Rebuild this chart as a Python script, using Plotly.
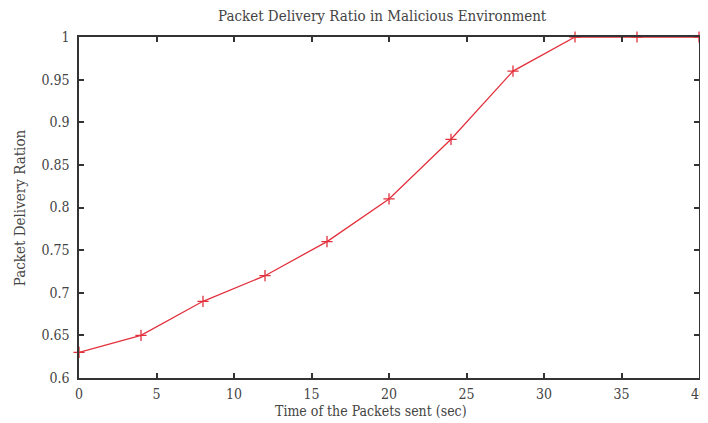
import plotly.graph_objects as go

time_sec = [0, 4, 8, 12, 16, 20, 24, 28, 32, 36, 40]
pdr = [0.63, 0.65, 0.69, 0.72, 0.76, 0.81, 0.88, 0.96, 1.0, 1.0, 1.0]
x_ticks = [0, 5, 10, 15, 20, 25, 30, 35, 40]
y_ticks = [0.6, 0.65, 0.7, 0.75, 0.8, 0.85, 0.9, 0.95, 1]
y_labels = ["0.6", "0.65", "0.7", "0.75", "0.8", "0.85", "0.9", "0.95", "1"]

chart_title = "Packet Delivery Ratio in Malicious Environment"
x_title = "Time of the Packets sent (sec)"
y_title = "Packet Delivery Ration"

font_family = "DejaVu Serif Condensed, Liberation Serif, serif"
text_color = "#444444"

fig = go.Figure()
fig.add_trace(go.Scatter(
    x=time_sec, y=pdr, mode="lines+markers",
    line=dict(color="#e2303c", width=1.3),
    marker=dict(symbol="cross-thin", size=8, line=dict(color="#e2303c", width=1.3)),
    cliponaxis=False, showlegend=False,
))

axis_common = dict(
    showgrid=False, zeroline=False, showline=True, linecolor="#333333", linewidth=1.5,
    mirror="ticks", ticks="inside", ticklen=5, tickcolor="#333333", tickwidth=1.5,
    tickfont=dict(family=font_family, size=14, color=text_color), automargin=False,
)

fig.update_layout(
    width=700, height=415,
    margin=dict(l=71, r=9, t=29, b=45),
    paper_bgcolor="white", plot_bgcolor="white",
    xaxis=dict(range=[0, 40], tickvals=x_ticks, ticklabelstandoff=2, **axis_common),
    yaxis=dict(range=[0.6, 1], tickvals=y_ticks, ticktext=y_labels, ticklabelstandoff=5, **axis_common),
    annotations=[
        dict(text=chart_title, xref="paper", yref="paper", x=0.490, y=1.0616,
             xanchor="center", yanchor="middle", showarrow=False,
             font=dict(family=font_family, size=15, color=text_color)),
        dict(text=x_title, xref="paper", yref="paper", x=0.471, y=-0.0968,
             xanchor="center", yanchor="middle", showarrow=False,
             font=dict(family=font_family, size=14, color=text_color)),
        dict(text=y_title, xref="paper", yref="paper", x=-0.0952, y=0.501,
             xanchor="center", yanchor="middle", showarrow=False, textangle=-90,
             font=dict(family=font_family, size=15, color=text_color)),
    ],
)

fig.write_html("out.html")
